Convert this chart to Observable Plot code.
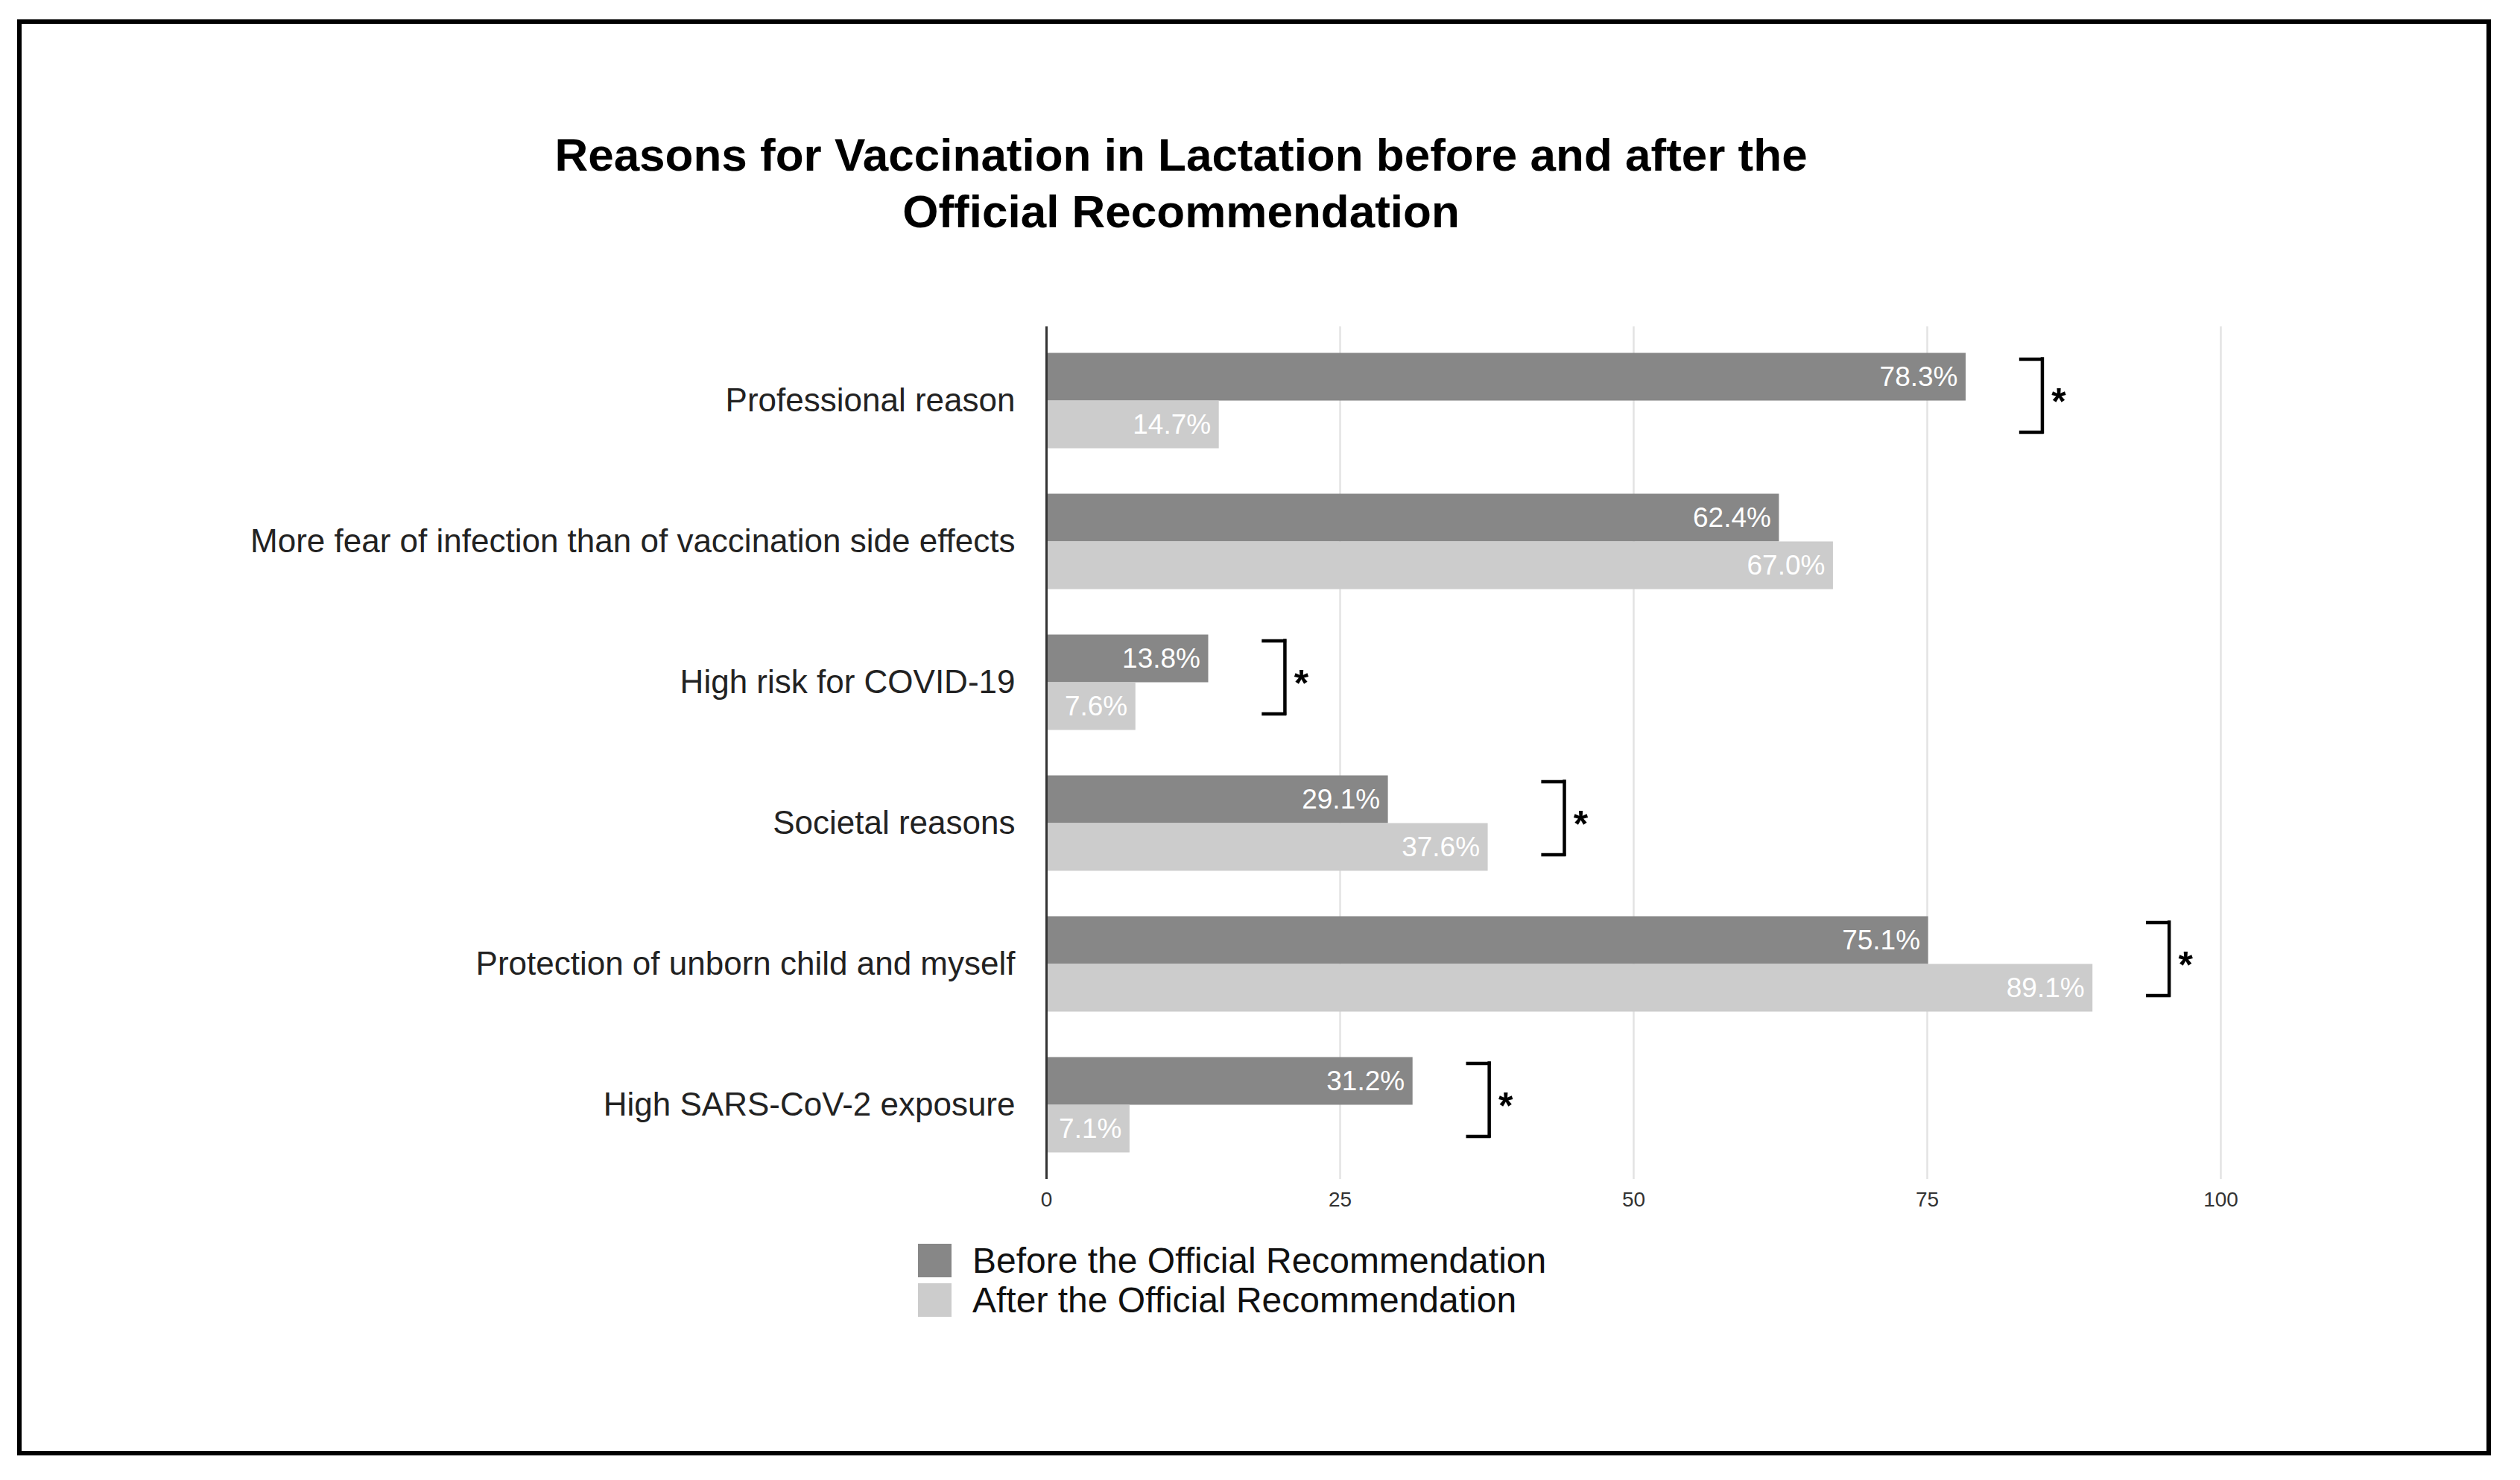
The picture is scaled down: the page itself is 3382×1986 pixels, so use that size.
<!DOCTYPE html>
<html>
<head>
<meta charset="utf-8">
<script src="https://cdn.jsdelivr.net/npm/d3@7"></script>
<script src="https://cdn.jsdelivr.net/npm/@observablehq/plot@0.6"></script>
<style>
  html, body { margin: 0; padding: 0; background: #fff; }
  body { width: 3382px; height: 1986px; position: relative; overflow: hidden;
         font-family: "Liberation Sans", Arial, Helvetica, sans-serif; }
  #frame { position: absolute; left: 23px; top: 26px; width: 3320px; height: 1927px;
           box-sizing: border-box; border: 6px solid #000; }
  #title { position: absolute; left: 0; width: 3170px; top: 170px; text-align: center;
           font-weight: bold; font-size: 62px; line-height: 76px; color: #000; }
  #legend { position: absolute; left: 1232px; top: 1669px; }
  .row { display: flex; align-items: center; height: 45px; margin-bottom: 8px; }
  .sw { width: 45px; height: 45px; margin-right: 28px; }
  .lab { font-size: 48px; color: #111; white-space: nowrap; }
  #chart svg { position: absolute; left: 0; top: 0; }
</style>
</head>
<body>
<div id="frame"></div>
<div id="title"></div>
<div id="chart"></div>
<div id="legend"></div>
<script>
// ---- data ----
const titleLines = ["Reasons for Vaccination in Lactation before and after the", "Official Recommendation"];
const categories = [
  "Professional reason",
  "More fear of infection than of vaccination side effects",
  "High risk for COVID-19",
  "Societal reasons",
  "Protection of unborn child and myself",
  "High SARS-CoV-2 exposure"
];
const before = [78.3, 62.4, 13.8, 29.1, 75.1, 31.2];
const after  = [14.7, 67.0, 7.6, 37.6, 89.1, 7.1];
const significant = [true, false, true, true, true, true];
const seriesNames = ["Before the Official Recommendation", "After the Official Recommendation"];
const seriesColors = ["#878787", "#cccccc"];
const xTicks = [0, 25, 50, 75, 100];

// ---- derived tables ----
const rowsBefore = categories.map((c, i) => ({category: c, series: seriesNames[0], value: before[i]}));
const rowsAfter  = categories.map((c, i) => ({category: c, series: seriesNames[1], value: after[i]}));
const brackets = categories
  .map((c, i) => ({category: c, x: Math.max(before[i], after[i]) + 6.5, sig: significant[i]}))
  .filter(d => d.sig);

document.getElementById("title").innerHTML = titleLines.map(t => `<div>${t}</div>`).join("");

const BAR = 64;
const chart = Plot.plot({
  width: 3382,
  height: 1986,
  marginLeft: 1404,
  marginRight: 402,
  marginTop: 438,
  marginBottom: 404,
  style: {fontFamily: '"Liberation Sans", Arial, Helvetica, sans-serif', background: "transparent", color: "#222"},
  x: {domain: [0, 100], ticks: xTicks, label: null},
  y: {domain: categories, paddingInner: 0.3227, paddingOuter: 0.188, round: false, label: null},
  color: {domain: seriesNames, range: seriesColors},
  marks: [
    Plot.ruleX(xTicks.slice(1), {stroke: "#e3e3e3", strokeWidth: 2.5}),
    Plot.barX(rowsBefore, {x: "value", y: "category", fill: "series", insetBottom: BAR}),
    Plot.barX(rowsAfter, {x: "value", y: "category", fill: "series", insetTop: BAR}),
    Plot.text(rowsBefore, {x: "value", y: "category", text: d => d.value.toFixed(1) + "%",
      textAnchor: "end", dx: -11, dy: -32, fill: "#ffffff", fontSize: 37}),
    Plot.text(rowsAfter, {x: "value", y: "category", text: d => d.value.toFixed(1) + "%",
      textAnchor: "end", dx: -11, dy: 32, fill: "#ffffff", fontSize: 37}),
    Plot.ruleX([0], {stroke: "#333", strokeWidth: 3}),
    Plot.tickX(brackets, {x: "x", y: "category", insetTop: 8, insetBottom: 22,
      stroke: "#000", strokeWidth: 4.5, strokeLinecap: "square"}),
    Plot.ruleY(brackets, {y: "category", x1: d => d.x - 1.8, x2: "x", dy: -56,
      stroke: "#000", strokeWidth: 4.5, strokeLinecap: "square"}),
    Plot.ruleY(brackets, {y: "category", x1: d => d.x - 1.8, x2: "x", dy: 42,
      stroke: "#000", strokeWidth: 4.5, strokeLinecap: "square"}),
    Plot.text(brackets, {x: "x", y: "category", text: () => "*", dx: 22, dy: 2,
      fontSize: 50, fontWeight: "bold", fill: "#000"}),
    Plot.axisX({ticks: xTicks, tickSize: 0, tickPadding: 17, fontSize: 28, fill: "#333", label: null}),
    Plot.axisY({tickSize: 0, tickPadding: 42, fontSize: 44, fill: "#222", label: null})
  ]
});
document.getElementById("chart").appendChild(chart);

// legend
document.getElementById("legend").innerHTML = seriesNames.map((s, i) =>
  `<div class="row"><div class="sw" style="background:${seriesColors[i]}"></div><div class="lab">${s}</div></div>`
).join("");
</script>
</body>
</html>
